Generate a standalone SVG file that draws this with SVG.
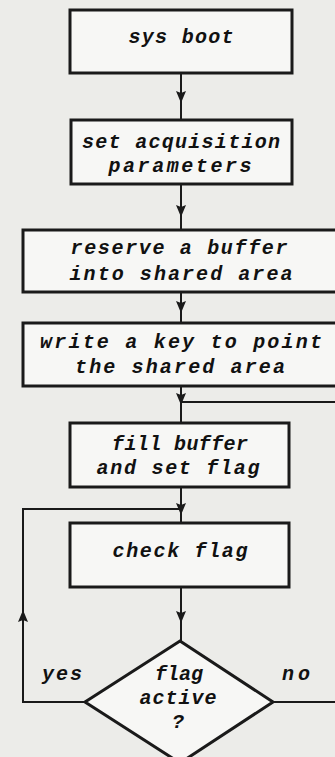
<svg xmlns="http://www.w3.org/2000/svg" width="335" height="757" viewBox="0 0 335 757">
<style>
.box{fill:#f7f7f5;stroke:#1a1a1a;stroke-width:3}
.ln{fill:none;stroke:#1a1a1a;stroke-width:2}
.t{font-family:"Liberation Mono","DejaVu Sans Mono",monospace;font-weight:bold;font-style:italic;font-size:20px;fill:#111;text-anchor:middle}
</style>
<defs>
<marker id="ah" markerWidth="12" markerHeight="10" refX="12" refY="5" orient="auto" markerUnits="userSpaceOnUse" viewBox="0 0 12 10">
<path d="M0,0 L12,5 L0,10 L2,5 Z" fill="#1a1a1a"/>
</marker>
</defs>
<rect width="335" height="757" fill="#ecece9"/>
<g id="connectors">
<path class="ln" d="M181,73 L181,103 L181,119" marker-mid="url(#ah)"/>
<path class="ln" d="M181,184 L181,217 L181,230" marker-mid="url(#ah)"/>
<path class="ln" d="M181,292 L181,313 L181,323" marker-mid="url(#ah)"/>
<path class="ln" d="M181,386 L181,405 L181,423" marker-mid="url(#ah)"/>
<path class="ln" d="M336,402 L181,402"/>
<path class="ln" d="M181,487 L181,515 L181,523" marker-mid="url(#ah)"/>
<path class="ln" d="M181,587 L181,623 L181,641" marker-mid="url(#ah)"/>
<path class="ln" d="M85,702 L23,702 L23,509 L181,509"/>
<path class="ln" d="M23,650 L23,610 L23,600" marker-mid="url(#ah)"/>
<path class="ln" d="M273,702 L336,702"/>
</g>
<g id="n1"><rect class="box" x="70" y="10" width="222" height="63"/><text class="t" x="181" y="43" textLength="105">sys boot</text></g>
<g id="n2"><rect class="box" x="71" y="120" width="221" height="64"/><text class="t" x="181" y="148" textLength="198">set acquisition</text><text class="t" x="180" y="172" textLength="143">parameters</text></g>
<g id="n3"><rect class="box" x="23" y="230" width="320" height="62"/><text class="t" x="179" y="254" textLength="217">reserve a buffer</text><text class="t" x="181" y="280" textLength="223">into shared area</text></g>
<g id="n4"><rect class="box" x="23" y="323" width="320" height="63"/><text class="t" x="181" y="348" textLength="282">write a key to point</text><text class="t" x="180" y="373" textLength="210">the shared area</text></g>
<g id="n5"><rect class="box" x="70" y="423" width="219" height="64"/><text class="t" x="180" y="450" textLength="136">fill buffer</text><text class="t" x="178" y="474" textLength="163">and set flag</text></g>
<g id="n6"><rect class="box" x="70" y="523" width="219" height="64"/><text class="t" x="180" y="557" textLength="135">check flag</text></g>
<g id="n7"><path class="box" d="M180,641 L273,702 L180,763 L85,702 Z"/><text class="t" x="179" y="680" textLength="48">flag</text><text class="t" x="178" y="704" textLength="77">active</text><text class="t" x="178" y="728">?</text></g>
<g id="labels"><text class="t" x="62" y="680" textLength="40">yes</text><text class="t" x="296" y="680" textLength="28">no</text></g>
</svg>
